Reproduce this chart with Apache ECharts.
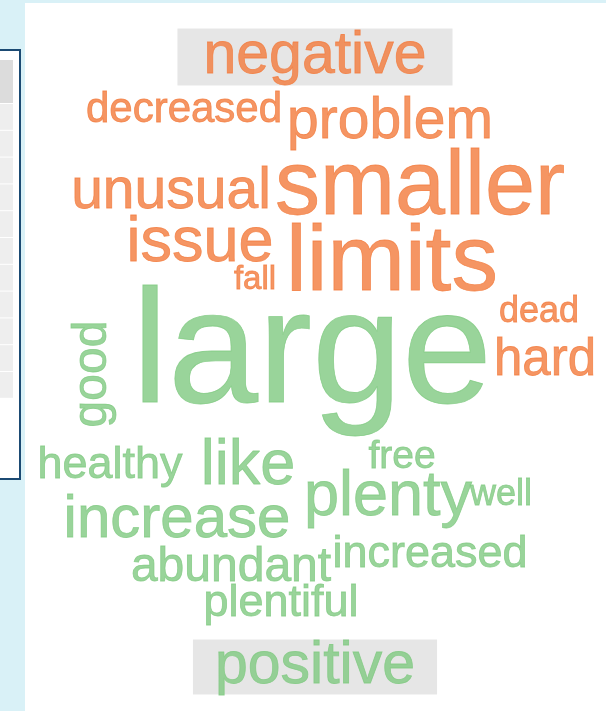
<!DOCTYPE html>
<html>
<head>
<meta charset="utf-8">
<script src="https://cdn.jsdelivr.net/npm/echarts@6/dist/echarts.min.js"></script>
<style>
html,body{margin:0;padding:0;background:#d9f1f7;}
#chart{width:606px;height:711px;}
</style>
</head>
<body>
<div id="chart"></div>
<script>
// ---- data ----
const words = ['large','limits','smaller','issue','like','plenty','increase','unusual','problem','hard',
  'abundant','healthy','increased','plentiful','good','decreased','free','well','dead','fall'];
const freq = [54,31,30,21,21,21,20,19,19,17,16,15,15,15,16,14,13,12,12,11];
const sentiment = ['positive','negative','negative','negative','positive','positive','positive','negative','negative','negative',
  'positive','positive','positive','positive','positive','negative','positive','positive','negative','negative'];
// word-cloud layout (centre of each word, in layout units)
const layoutX = [312,392,420,200,248,388,177,171,390,545,231,110,430,281,93,184,402,501,539,255];
const layoutY = [357,264,189,244,467,498,520,192,122,361,568,466,555,604,374,110,457,495,312,280];
const rotated = ['good'];
const groupTitles = ['negative','positive'];
const groupX = [315,315];
const groupY = [57,667];

// ---- styles ----
const COLORS = {negative:'#f37b3c', positive:'#80c981'};
const FONT = 'Liberation Sans, Arial, sans-serif';
const SIZE_PER_COUNT = 3;

const wordData = words.map((w,i)=>({
  name:w,
  value:[layoutX[i], layoutY[i]],
  label:{
    fontSize: freq[i]*SIZE_PER_COUNT,
    color: COLORS[sentiment[i]],
    textBorderColor: COLORS[sentiment[i]],
    textBorderWidth: 0.8,
    rotate: rotated.indexOf(w) >= 0 ? 90 : 0
  }
}));
const titleData = groupTitles.map((t,i)=>({
  name:t,
  value:[groupX[i], groupY[i]],
  label:{
    color: COLORS[t],
    textBorderColor: COLORS[t],
    textBorderWidth: 0.8,
    lineHeight: i===0 ? 50 : 52,
    padding: i===0 ? [7,26,0,26] : [0,22,3,22]
  }
}));

// left table decoration
const deco = [
  {type:'rect', shape:{x:25,y:3,width:581,height:708}, style:{fill:'#ffffff'}, z:-10},
  {type:'rect', shape:{x:-3,y:50,width:23,height:429}, style:{fill:'#ffffff', stroke:'#1b4a73', lineWidth:2}, z:-10},
  {type:'rect', shape:{x:0,y:60,width:13,height:43}, style:{fill:'#dcdcdc'}, z:-9}
];
for(let k=0;k<11;k++){
  deco.push({type:'rect', shape:{x:0,y:104+k*26.8,width:13,height:25.8}, style:{fill:'#eeeeee'}, z:-9});
}

const chart = echarts.init(document.getElementById('chart'), null, {renderer:'canvas'});
chart.setOption({
  backgroundColor:'#d9f1f7',
  animation:false,
  graphic:{elements:deco},
  grid:{left:0,right:0,top:0,bottom:0},
  xAxis:{type:'value',min:0,max:606,show:false},
  yAxis:{type:'value',min:0,max:711,inverse:true,show:false},
  series:[
    {
      type:'scatter', silent:true, symbolSize:1, itemStyle:{color:'rgba(0,0,0,0)'},
      emphasis:{disabled:true},
      label:{show:true, position:'inside', formatter:'{b}', fontFamily:FONT, align:'center', verticalAlign:'middle'},
      data:wordData, z:3
    },
    {
      type:'scatter', silent:true, symbolSize:1, itemStyle:{color:'rgba(0,0,0,0)'},
      emphasis:{disabled:true},
      label:{show:true, position:'inside', formatter:'{b}', fontFamily:FONT, fontSize:59,
        backgroundColor:'#e0e0e0', align:'center', verticalAlign:'middle'},
      data:titleData, z:3
    }
  ]
});
</script>
</body>
</html>
